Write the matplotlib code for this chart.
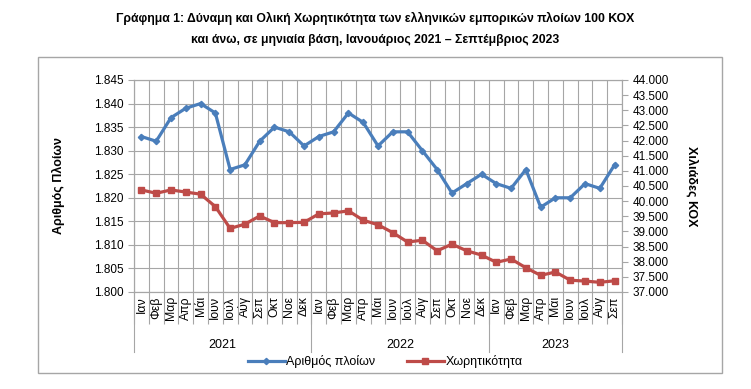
import matplotlib.pyplot as plt
import matplotlib.ticker as mtick
from matplotlib.patches import Rectangle

plt.rcParams['font.family'] = ['Liberation Sans', 'DejaVu Sans']

months = ['Ιαν', 'Φεβ', 'Μαρ', 'Απρ', 'Μάι', 'Ιουν', 'Ιούλ', 'Αύγ', 'Σεπ', 'Οκτ', 'Νοε', 'Δεκ']
years = ['2021', '2022', '2023']
month_labels = months + months + months[:9]

# number of ships (left axis)
ships = [1833, 1832, 1837, 1839, 1840, 1838, 1826, 1827, 1832, 1835, 1834, 1831,
         1833, 1834, 1838, 1836, 1831, 1834, 1834, 1830, 1826, 1821, 1823, 1825,
         1823, 1822, 1826, 1818, 1820, 1820, 1823, 1822, 1827]
# gross tonnage, thousand GT (right axis)
gt = [40370, 40260, 40370, 40300, 40230, 39820, 39100, 39240, 39510, 39290, 39290, 39300,
      39580, 39610, 39680, 39370, 39220, 38960, 38650, 38710, 38360, 38580, 38360, 38220,
      37980, 38090, 37800, 37550, 37660, 37390, 37360, 37320, 37370]

blue = '#4a7ebb'
red = '#be4b48'
grid_c = '#a6a6a6'

fig = plt.figure(figsize=(7.51, 3.89), dpi=100)
ax = fig.add_axes([134 / 751, 1 - 292 / 389, 488 / 751, 212 / 389])
ax2 = ax.twinx()

x = list(range(len(ships)))
l1, = ax.plot(x, ships, color=blue, lw=2.3, marker='D', ms=3.2, label='Αριθμός πλοίων')
l2, = ax2.plot(x, gt, color=red, lw=2.3, marker='s', ms=4.5, label='Χωρητικότητα')

ax.set_xlim(-0.5, len(x) - 0.5)
ax.set_ylim(1800, 1845)
ax.set_yticks(range(1800, 1846, 5))
ax2.set_ylim(37000, 44000)
ax2.set_yticks(range(37000, 44001, 500))
fmt = mtick.FuncFormatter(lambda v, p: '{:,.0f}'.format(v).replace(',', '.'))
ax.yaxis.set_major_formatter(fmt)
ax2.yaxis.set_major_formatter(fmt)

ax.set_xticks(x)
ax.set_xticklabels(month_labels, rotation=90, fontsize=8.8)
ax.set_xticks([i - 0.5 for i in range(len(x) + 1)], minor=True)
ax.tick_params(axis='x', which='major', length=0, pad=3)
ax.tick_params(axis='x', which='minor', length=23, color=grid_c, width=0.8)
ax.tick_params(axis='y', length=4, color=grid_c, labelsize=8.5)
ax2.tick_params(axis='y', length=4, color=grid_c, labelsize=8.5)

ax.grid(axis='y', color=grid_c, lw=0.8)
ax.grid(axis='x', which='minor', color=grid_c, lw=0.8)
ax.set_axisbelow(True)
for a in (ax, ax2):
    for s in a.spines.values():
        s.set_color(grid_c)
        s.set_linewidth(0.8)

# year separators and labels
tr = ax.get_xaxis_transform()
starts = [0, 12, 24, len(x)]
for s in starts:
    ax.plot([s - 0.5, s - 0.5], [0, -0.285], transform=tr, color=grid_c, lw=0.8, clip_on=False)
for i, y in enumerate(years):
    ax.text((starts[i] + starts[i + 1] - 1) / 2, -0.25, y, transform=tr,
            ha='center', va='center', fontsize=9)

ax.set_ylabel('Αριθμός Πλοίων', fontsize=9, fontweight='bold', labelpad=21)
ax2.set_ylabel('Χιλιάδες ΚΟΧ', fontsize=9, fontweight='bold', rotation=-90, labelpad=21)

fig.legend([l1, l2], [l1.get_label(), l2.get_label()], loc='center',
           bbox_to_anchor=(385 / 751, 1 - 362 / 389), ncol=2, frameon=False,
           fontsize=9, handlelength=3, columnspacing=2.5, handletextpad=0.1)

fig.patches.append(Rectangle((38 / 751, 1 - 373 / 389), 684 / 751, 316 / 389,
                             transform=fig.transFigure, fill=False,
                             edgecolor=grid_c, lw=1))

fig.text(375 / 751, 1 - 18 / 389,
         'Γράφημα 1: Δύναμη και Ολική Χωρητικότητα των ελληνικών εμπορικών πλοίων 100 ΚΟΧ',
         ha='center', va='center', fontsize=8.8, fontweight='bold')
fig.text(375 / 751, 1 - 40 / 389,
         'και άνω, σε μηνιαία βάση, Ιανουάριος 2021 – Σεπτέμβριος 2023',
         ha='center', va='center', fontsize=8.8, fontweight='bold')

plt.savefig('out.png', dpi=100)
